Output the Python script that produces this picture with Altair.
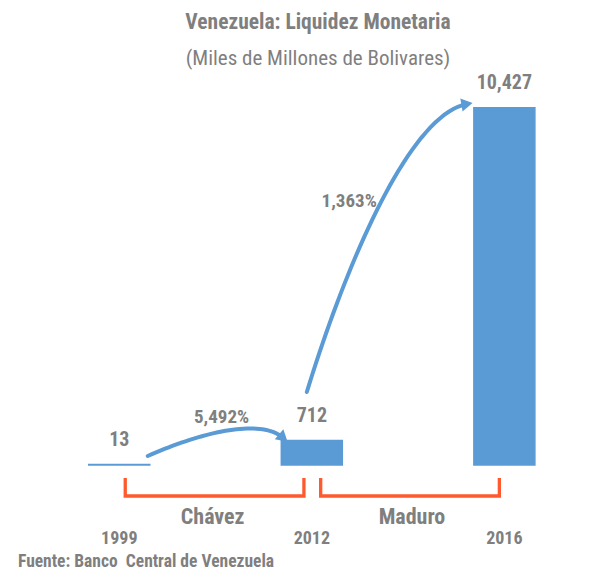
import altair as alt
import numpy as np
import pandas as pd

# ---- data ----
years = ["1999", "2012", "2016"]
values = [13, 712, 10427]
value_labels = ["13", "712", "10,427"]

pct_labels = ["5,492%", "1,363%"]
pct_x = [0.531, 1.194]
pct_y = [1225, 7528]

periods = ["Chávez", "Maduro"]
period_start = [0.031, 1.046]
period_end = [0.959, 1.974]
period_label_x = [0.485, 1.520]
bracket_top = -379
bracket_bottom = -905
period_label_y = -1721
year_label_y = -2305

footnote = "Fuente: Banco\u00a0 Central de Venezuela"
footnote_x = -0.526
footnote_y = -2976

# arrow control points (data units: x = category index, y = value)
arrow1_x = [0.148, 0.429, 0.735, 0.852]
arrow1_y = [263, 963, 1371, 788]
arrow2_x = [0.974, 1.168, 1.500, 1.806]
arrow2_y = [2130, 5690, 10212, 10533]

FONT = "Roboto Condensed, Liberation Sans Narrow, DejaVu Sans Condensed, sans-serif"
GRAY = "#7f7f7f"
BLUE = "#5B9BD5"
ORANGE = "#FF5A2D"

bars = pd.DataFrame({"pos": list(range(len(years))), "year": years,
                     "value": values, "label": value_labels,
                     "ylab": [year_label_y] * len(years)})


def bezier(px, py, n=40):
    t = np.linspace(0, 1, n)
    b = [(1 - t) ** 3, 3 * (1 - t) ** 2 * t, 3 * (1 - t) * t ** 2, t ** 3]
    xs = sum(c * p for c, p in zip(b, px))
    ys = sum(c * p for c, p in zip(b, py))
    return xs, ys


rows = []
for name, ax, ay in [("a1", arrow1_x, arrow1_y), ("a2", arrow2_x, arrow2_y)]:
    xs, ys = bezier(ax, ay)
    for i, (xx, yy) in enumerate(zip(xs, ys)):
        rows.append({"arrow": name, "i": i, "x": xx, "y": yy})
arrows = pd.DataFrame(rows)
heads = pd.DataFrame({"x": [arrow1_x[-1], arrow2_x[-1]],
                      "y": [arrow1_y[-1], arrow2_y[-1]],
                      "angle": [41, 350]})

brows = []
for p, s, e in zip(periods, period_start, period_end):
    for i, (xx, yy) in enumerate([(s, bracket_top), (s, bracket_bottom),
                                  (e, bracket_bottom), (e, bracket_top)]):
        brows.append({"period": p, "i": i, "x": xx, "y": yy})
brackets = pd.DataFrame(brows)
period_df = pd.DataFrame({"x": period_label_x, "y": [period_label_y] * 2,
                          "text": periods})
pct_df = pd.DataFrame({"x": pct_x, "y": pct_y, "text": pct_labels})
foot_df = pd.DataFrame({"x": [footnote_x], "y": [footnote_y], "text": [footnote]})

xscale = alt.Scale(domain=[-0.5, 2.398], nice=False, zero=False)
yscale = alt.Scale(domain=[0, 11000], nice=False)

X = lambda f: alt.X(f, scale=xscale, axis=None)
Y = lambda f: alt.Y(f, scale=yscale, axis=None)

bar_layer = alt.Chart(bars).mark_bar(size=61, color=BLUE, stroke=BLUE,
                                     strokeWidth=1.5).encode(
    x=alt.X("pos:Q", scale=xscale,
            axis=alt.Axis(labels=False, ticks=False, grid=False, title=None,
                          domainColor="#bfbfbf", domainWidth=2)),
    y=Y("value:Q"),
)

value_text = alt.Chart(bars).mark_text(
    dy=-19, baseline="alphabetic", font=FONT, fontSize=20, fontWeight="bold",
    color=GRAY).encode(x=X("pos:Q"), y=Y("value:Q"), text="label:N")

year_text = alt.Chart(bars).mark_text(
    baseline="alphabetic", font=FONT, fontSize=18, fontWeight="bold",
    color=GRAY).encode(x=X("pos:Q"), y=Y("ylab:Q"), text="year:N")

arrow_lines = alt.Chart(arrows).mark_line(color=BLUE, strokeWidth=4,
                                          strokeCap="round").encode(
    x=X("x:Q"), y=Y("y:Q"), detail="arrow:N", order="i:Q")

arrow_heads = alt.Chart(heads).mark_point(shape="triangle-right", filled=True,
                                          size=170, color=BLUE, opacity=1).encode(
    x=X("x:Q"), y=Y("y:Q"), angle=alt.Angle("angle:Q", scale=None))

pct_text = alt.Chart(pct_df).mark_text(
    baseline="alphabetic", font=FONT, fontSize=19, fontWeight="bold",
    color=GRAY).encode(x=X("x:Q"), y=Y("y:Q"), text="text:N")

bracket_lines = alt.Chart(brackets).mark_line(color=ORANGE, strokeWidth=3.3,
                                              strokeJoin="miter").encode(
    x=X("x:Q"), y=Y("y:Q"), detail="period:N", order="i:Q")

period_text = alt.Chart(period_df).mark_text(
    baseline="alphabetic", font=FONT, fontSize=22, fontWeight="bold",
    color=GRAY).encode(x=X("x:Q"), y=Y("y:Q"), text="text:N")

foot_text = alt.Chart(foot_df).mark_text(
    align="left", baseline="alphabetic", font=FONT, fontSize=17.5,
    fontWeight="bold", color=GRAY).encode(x=X("x:Q"), y=Y("y:Q"), text="text:N")

chart = alt.layer(
    bar_layer, value_text, year_text, arrow_lines, arrow_heads, pct_text,
    bracket_lines, period_text, foot_text,
).properties(
    width=568, height=377,
    title=alt.Title(
        "Venezuela: Liquidez Monetaria",
        subtitle="(Miles de Millones de Bolivares)",
        anchor="middle", frame="group", offset=4, subtitlePadding=14,
        dx=16, font=FONT, fontSize=21.5, fontWeight="bold", color=GRAY,
        subtitleFont=FONT, subtitleFontSize=21, subtitleColor=GRAY,
        subtitleFontWeight="normal",
    ),
    autosize=alt.AutoSizeParams(type="none"),
    padding={"left": 10, "top": 80, "right": 0, "bottom": 106},
).configure_view(stroke=None)

chart.save("out.html", embed_options={"renderer": "svg", "actions": False})
